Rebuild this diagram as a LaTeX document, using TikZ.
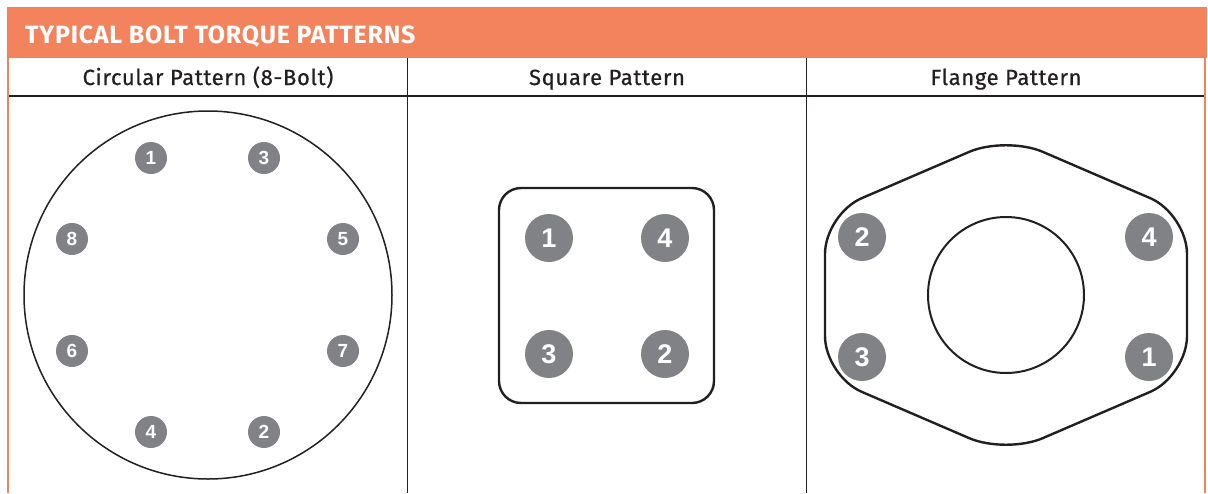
\documentclass[tikz,border=0pt]{standalone}
\usepackage{fontspec}
\setmainfont{Fira Sans}
\newfontfamily\titlefont{Fira Sans}[LetterSpace=3]
\newfontfamily\subfont{Fira Sans}[LetterSpace=3,FakeBold=0.6]
\newfontfamily\numfont{Liberation Sans}
\definecolor{orng}{RGB}{243,131,92}
\definecolor{boltgray}{RGB}{128,130,133}
\definecolor{ink}{RGB}{35,31,32}
\tikzset{
  boltS/.style={circle,fill=boltgray,inner sep=0pt,minimum size=32pt,text=white,font=\numfont\bfseries\fontsize{19}{19}\selectfont},
  boltL/.style={circle,fill=boltgray,inner sep=0pt,minimum size=48pt,text=white,font=\numfont\bfseries\fontsize{27}{27}\selectfont},
  colhead/.style={anchor=base,text=ink,font=\subfont\fontsize{22}{22}\selectfont},
  outline/.style={draw=ink,line width=2.4pt},
}
\begin{document}
\begin{tikzpicture}[x=1pt,y=-1pt]
\useasboundingbox (0,0) rectangle (1208,493);
\fill[white] (0,0) rectangle (1208,493);
% header band
\fill[orng] (7,7) rectangle (1207,58);
\node[anchor=base west,text=white,font=\titlefont\bfseries\fontsize{25}{25}\selectfont,inner sep=0pt] (title) at (25,43) {TYPICAL BOLT TORQUE PATTERNS};
% borders
\draw[orng,line width=2pt] (8,58) -- (8,493);
\draw[orng,line width=2pt] (1205,58) -- (1205,493);
\draw[ink,line width=2pt] (9,96) -- (1204,96);
\draw[ink,line width=1pt] (407,58) -- (407,493);
\draw[ink,line width=1pt] (806,58) -- (806,493);
% column headings
\node[colhead] (h1) at (208,85) {Circular Pattern (8-Bolt)};
\node[colhead] (h2) at (607,85) {Square Pattern};
\node[colhead] (h3) at (1006,85) {Flange Pattern};
% circular pattern
\draw[ink,line width=1.5pt] (208,295) circle[radius=184];
\node[boltS] (c1) at (151,158) {1};
\node[boltS] (c3) at (264,158) {3};
\node[boltS] (c8) at (72,239) {8};
\node[boltS] (c5) at (343,239) {5};
\node[boltS] (c6) at (72,351) {6};
\node[boltS] (c7) at (343,351) {7};
\node[boltS] (c4) at (151,432) {4};
\node[boltS] (c2) at (264,432) {2};
% square pattern
\draw[outline,rounded corners=22pt] (499,188) rectangle (714,403);
\node[boltL] (s1) at (549,238) {1};
\node[boltL] (s4) at (665,238) {4};
\node[boltL] (s3) at (549,354) {3};
\node[boltL] (s2) at (665,354) {2};
% flange pattern
\draw[outline,rounded corners=40pt] (1187,295) -- (1187,376) -- (1006,454) -- (825,376) -- (825,214) -- (1006,136) -- (1187,214) -- cycle;
\draw[ink,line width=2pt] (1006,295) circle[radius=78];
\node[boltL] (f2) at (862,237) {2};
\node[boltL] (f4) at (1149,237) {4};
\node[boltL] (f3) at (862,357) {3};
\node[boltL] (f1) at (1149,357) {1};
\end{tikzpicture}
\end{document}
